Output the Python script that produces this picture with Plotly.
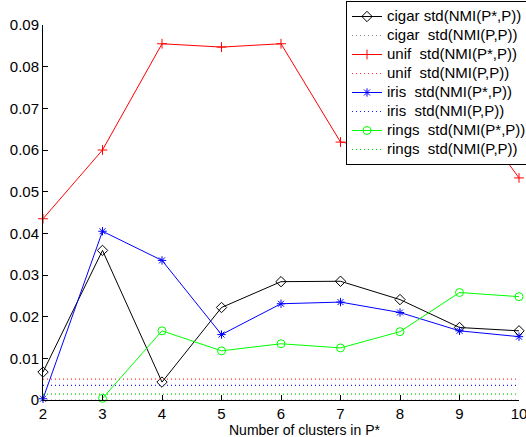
import plotly.graph_objects as go

x_clusters = [2, 3, 4, 5, 6, 7, 8, 9, 10]

cigar_star = [0.0067, 0.0359, 0.0043, 0.0222, 0.0284, 0.0285, 0.0241, 0.0174, 0.0166]
unif_star = [0.0435, 0.0600, 0.0855, 0.0847, 0.0855, 0.0619, 0.0598, 0.0728, 0.0533]
iris_star = [0.0003, 0.0405, 0.0335, 0.0157, 0.0231, 0.0235, 0.0210, 0.0166, 0.0152]
rings_star = [None, 0.0004, 0.0166, 0.0118, 0.0135, 0.0125, 0.0164, 0.0258, 0.0248]

cigar_pp = [0.0] * 9
unif_pp = [0.0050] * 9
iris_pp = [0.0035] * 9
rings_pp = [0.0014] * 9

y_ticks = [0, 0.01, 0.02, 0.03, 0.04, 0.05, 0.06, 0.07, 0.08, 0.09]
y_tick_labels = ["0", "0.01", "0.02", "0.03", "0.04", "0.05", "0.06", "0.07", "0.08", "0.09"]

NB = "\u00a0"
names = [
    "cigar std(NMI(P*,P))",
    "cigar" + NB * 2 + "std(NMI(P,P))",
    "unif" + NB * 2 + "std(NMI(P*,P))",
    "unif" + NB * 2 + "std(NMI(P,P))",
    "iris" + NB * 2 + "std(NMI(P*,P))",
    "iris" + NB * 2 + "std(NMI(P,P))",
    "rings" + NB * 2 + "std(NMI(P*,P))",
    "rings" + NB * 2 + "std(NMI(P,P))",
]


def big(s):
    return '<span style="font-size:15px">' + s + "</span>"


fig = go.Figure()

series = [
    (cigar_star, cigar_pp, "black", "#8a8a8a", "diamond-open", 8),
    (unif_star, unif_pp, "#ff0000", "#ff3030", "cross-thin-open", 7),
    (iris_star, iris_pp, "#0000ff", "#2020ff", "asterisk-open", 7),
    (rings_star, rings_pp, "#00ff00", "#00dd00", "circle-open", 8),
]

for i, (ys, pp, col, dcol, sym, ms) in enumerate(series):
    fig.add_trace(go.Scatter(
        x=x_clusters, y=ys, mode="lines+markers", name=big(names[2 * i]),
        line=dict(color=col, width=1),
        marker=dict(symbol=sym, size=ms, color=col, line=dict(color=col, width=1)),
        cliponaxis=False,
    ))
    fig.add_trace(go.Scatter(
        x=x_clusters, y=pp, mode="lines", name=big(names[2 * i + 1]),
        line=dict(color=dcol, width=1.2, dash="1px,3px"),
        cliponaxis=False,
    ))

fig.update_layout(
    width=526, height=437,
    margin=dict(l=43, r=7, t=25, b=37, autoexpand=False),
    paper_bgcolor="white", plot_bgcolor="white",
    font=dict(family="Liberation Sans, Arial, sans-serif", color="black", size=14),
    showlegend=True,
    legend=dict(
        x=(346 - 43) / 476, y=(400 - 1) / 375, xanchor="left", yanchor="top",
        bgcolor="white", bordercolor="black", borderwidth=1,
        font=dict(size=11.5, family="Liberation Sans, Arial, sans-serif"),
        tracegroupgap=0, itemwidth=30,
    ),
    xaxis=dict(
        range=[2, 10], tickvals=x_clusters, ticktext=[str(v) for v in x_clusters],
        showgrid=False, zeroline=False, showline=True, linecolor="black", linewidth=1,
        ticks="inside", ticklen=5, tickcolor="black", mirror=False,
        tickfont=dict(size=15), ticklabeloverflow="allow", automargin=False,
    ),
    yaxis=dict(
        range=[0, 0.09], tickvals=y_ticks, ticktext=y_tick_labels,
        showgrid=False, zeroline=False, showline=True, linecolor="black", linewidth=1,
        ticks="inside", ticklen=5, tickcolor="black", mirror=False,
        tickfont=dict(size=15), automargin=False,
    ),
    annotations=[dict(
        text="Number of clusters in P*", xref="paper", yref="paper",
        x=(304 - 43) / 476, y=-(430 - 400) / 375, xanchor="center", yanchor="middle",
        showarrow=False, font=dict(size=14),
    )],
)

fig.write_html("out.html")
